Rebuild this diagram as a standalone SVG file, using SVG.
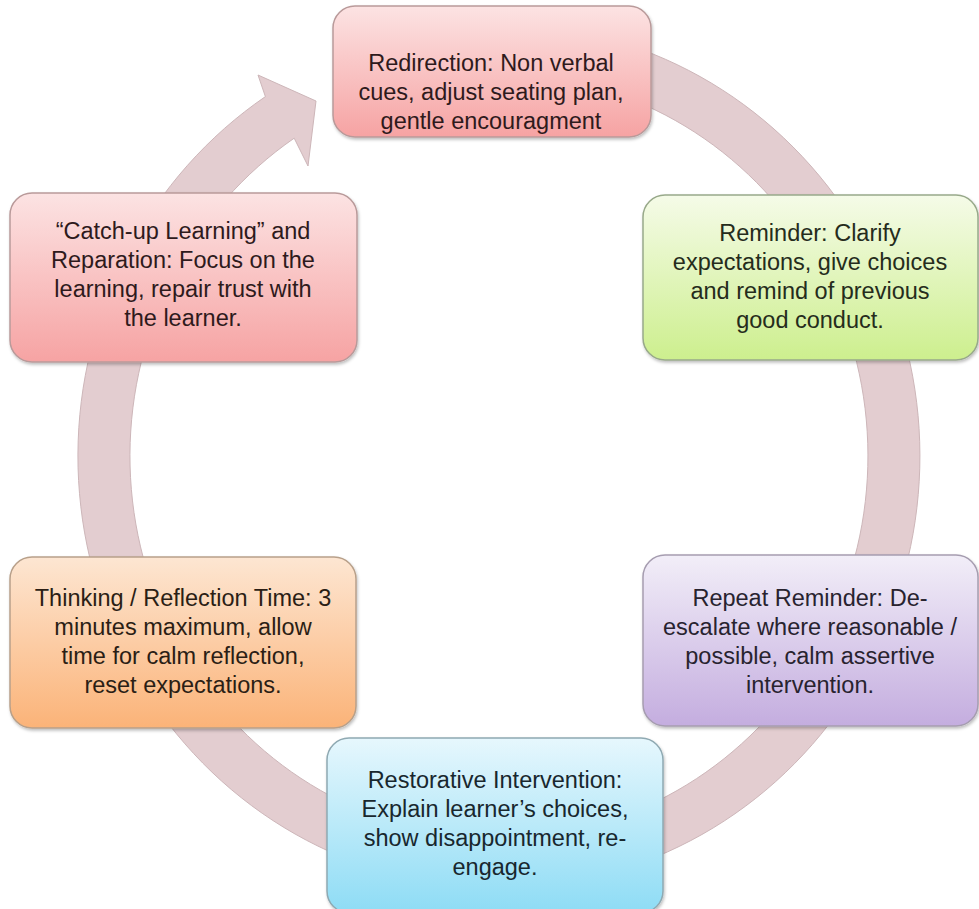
<svg xmlns="http://www.w3.org/2000/svg" width="979" height="909" viewBox="0 0 979 909">
<defs>
<linearGradient id="gPink" x1="0" y1="0" x2="0" y2="1"><stop offset="0" stop-color="#fce3e3"/><stop offset="1" stop-color="#f6a3a3"/></linearGradient>
<linearGradient id="gGreen" x1="0" y1="0" x2="0" y2="1"><stop offset="0" stop-color="#f5fbe8"/><stop offset="1" stop-color="#cdef8e"/></linearGradient>
<linearGradient id="gOrange" x1="0" y1="0" x2="0" y2="1"><stop offset="0" stop-color="#fde6d2"/><stop offset="1" stop-color="#fbb378"/></linearGradient>
<linearGradient id="gPurple" x1="0" y1="0" x2="0" y2="1"><stop offset="0" stop-color="#f2eef8"/><stop offset="1" stop-color="#c4addf"/></linearGradient>
<linearGradient id="gBlue" x1="0" y1="0" x2="0" y2="1"><stop offset="0" stop-color="#e6f7fd"/><stop offset="1" stop-color="#8edcf5"/></linearGradient>
<filter id="sh" x="-10%" y="-10%" width="120%" height="130%"><feDropShadow dx="1" dy="2" stdDeviation="1.5" flood-color="#000" flood-opacity="0.25"/></filter>
<style>
.box{stroke-width:1.5;filter:url(#sh)}
.t{font-family:"Liberation Sans",Arial,sans-serif;font-size:23.5px;text-anchor:middle}
</style>
</defs>
<rect width="979" height="909" fill="#ffffff"/>
<g id="connectors">
<path d="M 425.9 30.6 A 421 432 0 1 1 265.4 96.6 L 258 75 L 316 101 L 308 166 L 294.2 138.2 A 369 382 0 1 0 434.9 79.8 Z" fill="#e3cdd0" stroke="#cdb6b9" stroke-width="1"/>
</g>
<g id="redirection">
<rect class="box" x="333" y="6" width="318" height="131" rx="22" fill="url(#gPink)" stroke="#b99a9a"/>
<text class="t" fill="#2e1a1c"><tspan x="491" y="71">Redirection: Non verbal</tspan><tspan x="491" y="100">cues, adjust seating plan,</tspan><tspan x="491" y="129">gentle encouragment</tspan></text>
</g>
<g id="reminder">
<rect class="box" x="643" y="195" width="335" height="165" rx="22" fill="url(#gGreen)" stroke="#98a98a"/>
<text class="t" fill="#252c1c"><tspan x="810" y="241">Reminder: Clarify</tspan><tspan x="810" y="270">expectations, give choices</tspan><tspan x="810" y="299">and remind of previous</tspan><tspan x="810" y="328">good conduct.</tspan></text>
</g>
<g id="repeat-reminder">
<rect class="box" x="643" y="555" width="335" height="171" rx="22" fill="url(#gPurple)" stroke="#a69db0"/>
<text class="t" fill="#28232f"><tspan x="810" y="606">Repeat Reminder: De-</tspan><tspan x="810" y="635">escalate where reasonable /</tspan><tspan x="810" y="664">possible, calm assertive</tspan><tspan x="810" y="693">intervention.</tspan></text>
</g>
<g id="restorative">
<rect class="box" x="327" y="738" width="336" height="175" rx="22" fill="url(#gBlue)" stroke="#8fa9b2"/>
<text class="t" fill="#18272e"><tspan x="495" y="788">Restorative Intervention:</tspan><tspan x="495" y="817">Explain learner’s choices,</tspan><tspan x="495" y="846">show disappointment, re-</tspan><tspan x="495" y="875">engage.</tspan></text>
</g>
<g id="thinking">
<rect class="box" x="10" y="557" width="346" height="171" rx="22" fill="url(#gOrange)" stroke="#b8a08a"/>
<text class="t" fill="#2b1e15"><tspan x="183" y="606">Thinking / Reflection Time: 3</tspan><tspan x="183" y="635">minutes maximum, allow</tspan><tspan x="183" y="664">time for calm reflection,</tspan><tspan x="183" y="693">reset expectations.</tspan></text>
</g>
<g id="catch-up">
<rect class="box" x="10" y="193" width="347" height="169" rx="22" fill="url(#gPink)" stroke="#b99a9a"/>
<text class="t" fill="#2e1a1c"><tspan x="183" y="239">“Catch-up Learning” and</tspan><tspan x="183" y="268">Reparation: Focus on the</tspan><tspan x="183" y="297">learning, repair trust with</tspan><tspan x="183" y="326">the learner.</tspan></text>
</g>
</svg>
